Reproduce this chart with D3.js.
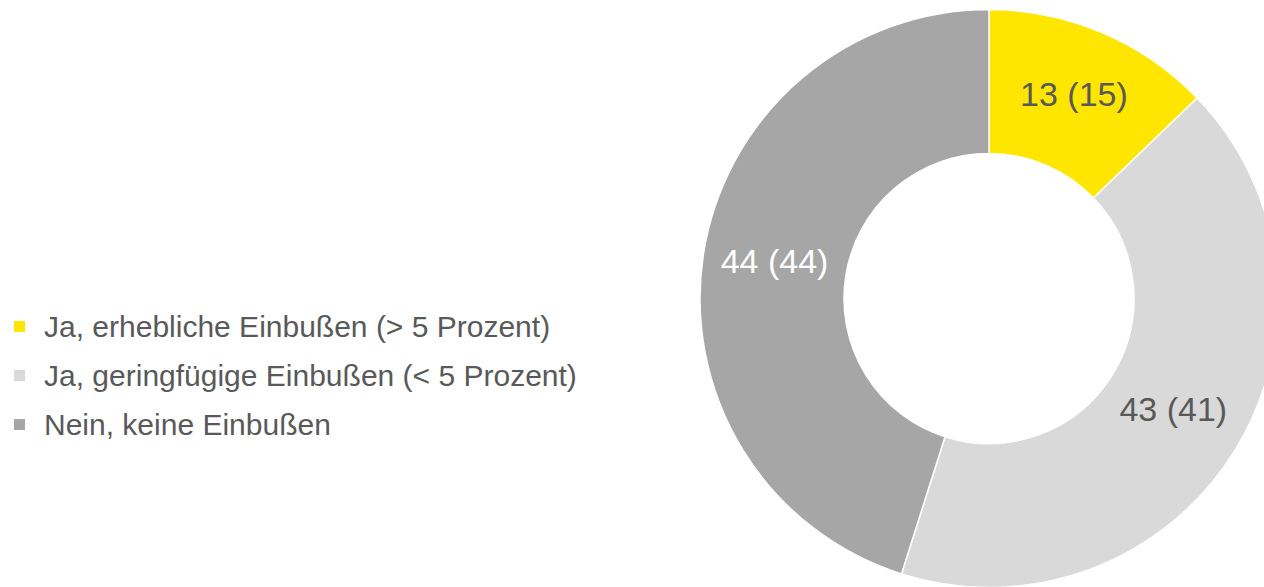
<!DOCTYPE html>
<html>
<head>
<meta charset="utf-8">
<script src="https://cdn.jsdelivr.net/npm/d3@7"></script>
<style>
  body { margin: 0; background: #fff; }
  text { font-family: Arial, "Liberation Sans", sans-serif; }
</style>
</head>
<body>
<div class="Chart"></div>
<script>
// Donut chart: Einbußen
let svgWidth = 1264;
let svgHeight = 587;

// data (slice shares estimated from the angles)
let categories = ["Ja, erhebliche Einbußen (> 5 Prozent)", "Ja, geringfügige Einbußen (< 5 Prozent)", "Nein, keine Einbußen"];
let shares = [12.8, 42.1, 45.1];
let sliceLabels = ["13 (15)", "43 (41)", "44 (44)"];
let colors = ["#FFE600", "#D9D9D9", "#A6A6A6"];
let labelColors = ["#595959", "#595959", "#FFFFFF"];

let cx = 989, cy = 298.5;
let outerR = 289, innerR = 145;

let svg = d3.select(".Chart")
  .append("svg")
  .attr("width", svgWidth)
  .attr("height", svgHeight);

let pie = d3.pie().sort(null).value(d => d);
let arc = d3.arc().innerRadius(innerR).outerRadius(outerR);

let donut = svg.append("g")
  .attr("transform", `translate(${cx}, ${cy})`);

let slices = donut.selectAll("path")
  .data(pie(shares))
  .enter()
  .append("path")
  .attr("d", arc)
  .attr("fill", (d, i) => colors[i])
  .attr("stroke", "#fff")
  .attr("stroke-width", 1.5);

// slice labels at the centroid (text box centred, so digits sit a bit high)
donut.selectAll(".sliceLabel")
  .data(pie(shares))
  .enter()
  .append("text")
  .attr("class", "sliceLabel")
  .attr("transform", d => `translate(${arc.centroid(d)})`)
  .attr("text-anchor", "middle")
  .attr("dy", "0.22em")
  .attr("font-size", "34px")
  .attr("fill", (d, i) => labelColors[i])
  .text((d, i) => sliceLabels[i]);

// legend
let legend = svg.append("g")
  .attr("transform", "translate(14, 326)");

let rows = legend.selectAll(".row")
  .data(categories)
  .enter()
  .append("g")
  .attr("class", "row")
  .attr("transform", (d, i) => `translate(0, ${i * 49})`);

rows.append("rect")
  .attr("x", 0)
  .attr("y", -5)
  .attr("width", 11)
  .attr("height", 11)
  .attr("fill", (d, i) => colors[i]);

rows.append("text")
  .attr("x", 30)
  .attr("dy", "0.35em")
  .attr("font-size", "30px")
  .attr("fill", "#595959")
  .text(d => d);
</script>
</body>
</html>
